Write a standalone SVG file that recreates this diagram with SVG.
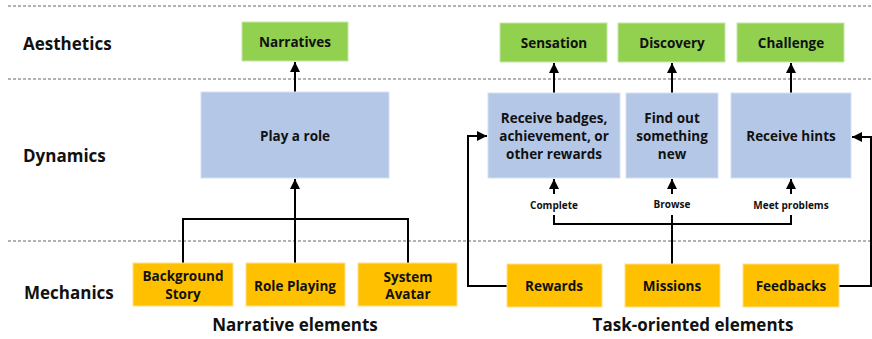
<svg xmlns="http://www.w3.org/2000/svg" width="872" height="339" viewBox="0 0 872 339">
<style>
.t{font-family:"Open Sans","Noto Sans",sans-serif;font-weight:bold;fill:#111;text-anchor:middle;dominant-baseline:central}
.h{font-size:17px;text-anchor:start}
.b{font-size:13.5px}
.s{font-size:10px}
.f{font-size:17px}
.g{fill:#92D050;stroke:#C6E6A6;stroke-width:1}
.bl{fill:#B4C7E7;stroke:#D5E0F2;stroke-width:1}
.y{fill:#FFC000;stroke:#FFE08A;stroke-width:1}
.d{stroke:#666;stroke-width:1;stroke-dasharray:3,2;fill:none}
.c{stroke:#000;stroke-width:2;fill:none}
</style>
<defs>
<marker id="ah" viewBox="0 0 10 10" refX="10" refY="5" markerWidth="5" markerHeight="5" orient="auto" markerUnits="strokeWidth">
<path d="M0,0 L10,5 L0,10 z" fill="#000"/>
</marker>
</defs>
<rect width="872" height="339" fill="#fff"/>
<g id="lanes">
<line class="d" x1="8" y1="6" x2="872" y2="6"/>
<line class="d" x1="8" y1="79" x2="872" y2="79"/>
<line class="d" x1="8" y1="241" x2="872" y2="241"/>
<text class="t h" x="23" y="43">Aesthetics</text>
<text class="t h" x="23" y="155">Dynamics</text>
<text class="t h" x="24" y="292">Mechanics</text>
<text class="t f" x="295" y="324">Narrative elements</text>
<text class="t f" x="693" y="324">Task-oriented elements</text>
</g>
<g id="connectors">
<line class="c" x1="295" y1="92" x2="295" y2="62" marker-end="url(#ah)"/>
<line class="c" x1="554" y1="93" x2="554" y2="63" marker-end="url(#ah)"/>
<line class="c" x1="672" y1="93" x2="672" y2="63" marker-end="url(#ah)"/>
<line class="c" x1="791" y1="93" x2="791" y2="63" marker-end="url(#ah)"/>
<polyline class="c" points="183,263 183,219 408,219 408,263"/>
<line class="c" x1="295" y1="263" x2="295" y2="179" marker-end="url(#ah)" stroke-width="2.5"/>
<polyline class="c" points="554,215 554,224 791,224 791,215"/>
<line class="c" x1="672" y1="264" x2="672" y2="215" stroke-width="2.5"/>
<line class="c" x1="554" y1="194" x2="554" y2="179" marker-end="url(#ah)"/>
<line class="c" x1="672" y1="194" x2="672" y2="179" marker-end="url(#ah)"/>
<line class="c" x1="791" y1="194" x2="791" y2="179" marker-end="url(#ah)"/>
<text class="t s" x="554" y="205">Complete</text>
<text class="t s" x="672" y="204">Browse</text>
<text class="t s" x="791" y="205">Meet problems</text>
<polyline class="c" points="507,286 468,286 468,136 487,136" marker-end="url(#ah)"/>
<polyline class="c" points="839,286 871,286 871,137 852,137" marker-end="url(#ah)"/>
</g>
<g id="narratives"><rect class="g" x="242" y="22" width="106" height="39"/><text class="t b" x="295" y="42">Narratives</text></g>
<g id="sensation"><rect class="g" x="500" y="23" width="107" height="39"/><text class="t b" x="554" y="43">Sensation</text></g>
<g id="discovery"><rect class="g" x="618" y="23" width="107" height="39"/><text class="t b" x="672" y="43">Discovery</text></g>
<g id="challenge"><rect class="g" x="737" y="23" width="107" height="39"/><text class="t b" x="791" y="43">Challenge</text></g>
<g id="play-role"><rect class="bl" x="201" y="92" width="188" height="86"/><text class="t b" x="295" y="136">Play a role</text></g>
<g id="receive-badges"><rect class="bl" x="488" y="93" width="132" height="85"/><text class="t b" x="554" y="118">Receive badges,</text><text class="t b" x="554" y="136">achievement, or</text><text class="t b" x="554" y="154">other rewards</text></g>
<g id="find-out"><rect class="bl" x="626" y="93" width="92" height="85"/><text class="t b" x="672" y="118">Find out</text><text class="t b" x="672" y="136">something</text><text class="t b" x="672" y="154">new</text></g>
<g id="receive-hints"><rect class="bl" x="731" y="93" width="120" height="85"/><text class="t b" x="791" y="136">Receive hints</text></g>
<g id="background-story"><rect class="y" x="133" y="263" width="100" height="43"/><text class="t b" x="183" y="276">Background</text><text class="t b" x="183" y="294">Story</text></g>
<g id="role-playing"><rect class="y" x="246" y="263" width="99" height="43"/><text class="t b" x="295" y="286">Role Playing</text></g>
<g id="system-avatar"><rect class="y" x="358" y="263" width="99" height="43"/><text class="t b" x="408" y="277">System</text><text class="t b" x="408" y="294">Avatar</text></g>
<g id="rewards"><rect class="y" x="507" y="264" width="95" height="43"/><text class="t b" x="554" y="286">Rewards</text></g>
<g id="missions"><rect class="y" x="625" y="264" width="95" height="43"/><text class="t b" x="672" y="286">Missions</text></g>
<g id="feedbacks"><rect class="y" x="743" y="264" width="96" height="43"/><text class="t b" x="791" y="286">Feedbacks</text></g>
</svg>
